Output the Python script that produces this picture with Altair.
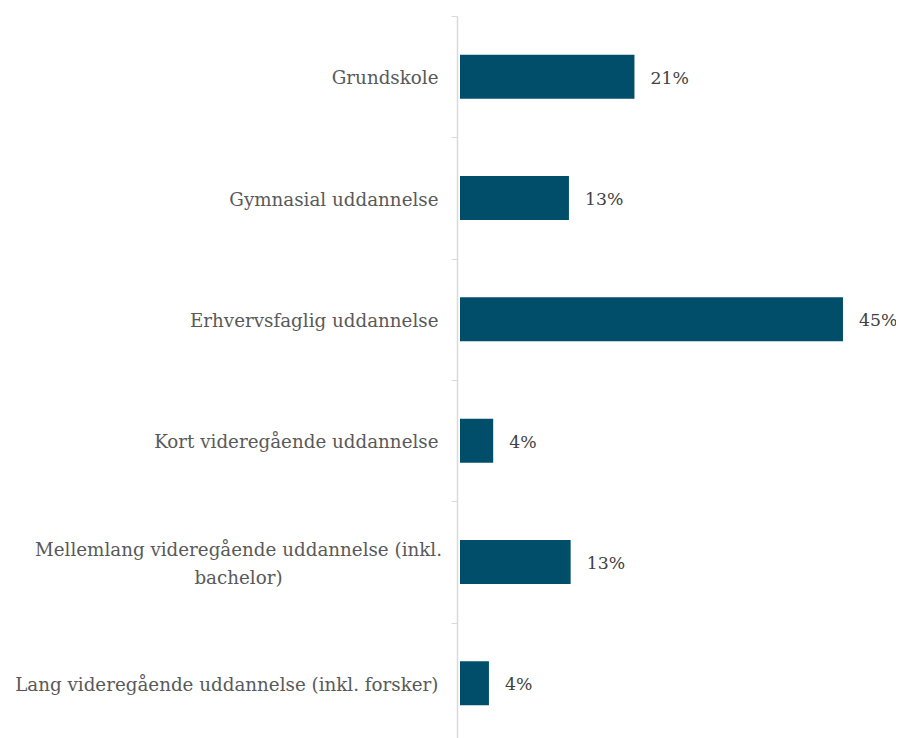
import altair as alt
import pandas as pd

categories = [
    "Grundskole",
    "Gymnasial uddannelse",
    "Erhvervsfaglig uddannelse",
    "Kort videregående uddannelse",
    "Mellemlang videregående uddannelse (inkl. bachelor)",
    "Lang videregående uddannelse (inkl. forsker)",
]
values = [20.5, 12.8, 45.0, 3.9, 13.0, 3.4]
value_labels = ["21%", "13%", "45%", "4%", "13%", "4%"]

df = pd.DataFrame({"cat": categories, "val": values, "lab": value_labels})

FONT = "DejaVu Serif"
BAR = "#004E6A"
WRAPPED = "Mellemlang videregående uddannelse (inkl. bachelor)"
test = f"datum.value == '{WRAPPED}'"

label_expr = (
    f"{test} ? ['Mellemlang videregående uddannelse (inkl.', 'bachelor)'] : datum.value"
)

y = alt.Y(
    "cat:N",
    sort=categories,
    title=None,
    scale=alt.Scale(paddingInner=0, paddingOuter=0),
    axis=alt.Axis(
        labelExpr=label_expr,
        labelFont=FONT,
        labelFontSize=18.3,
        labelColor="#595959",
        labelAlign={"condition": {"test": test, "value": "center"}, "value": "right"},
        labelPadding={"condition": {"test": test, "value": 213}, "value": 13},
        labelOffset={"condition": {"test": test, "value": -12}, "value": 2},
        labelLimit=1000,
        labelLineHeight=28,
        tickBand="extent",
        tickSize=6,
        tickColor="#d9d9d9",
        domainColor="#d9d9d9",
        domainWidth=1.5,
        offset=3,
        grid=False,
    ),
)
x = alt.X(
    "val:Q",
    title=None,
    scale=alt.Scale(domain=[0, 49.35], nice=False, zero=True),
    axis=None,
)

bars = alt.Chart(df).mark_bar(color=BAR, height={"band": 0.363}).encode(y=y, x=x)
text = alt.Chart(df).mark_text(
    align="left", baseline="middle", dx=16, dy=2, font=FONT, fontSize=17.3, color="#404040"
).encode(y=alt.Y("cat:N", sort=categories), x="val:Q", text="lab:N")

chart = (
    alt.layer(bars, text)
    .properties(
        width=420,
        height=728,
        autosize=alt.AutoSizeParams(type="none"),
        padding={"left": 452, "top": 8, "right": 16, "bottom": 0},
    )
    .configure_view(stroke=None)
)

chart.save("out.html", embed_options={"renderer": "svg", "actions": False})
